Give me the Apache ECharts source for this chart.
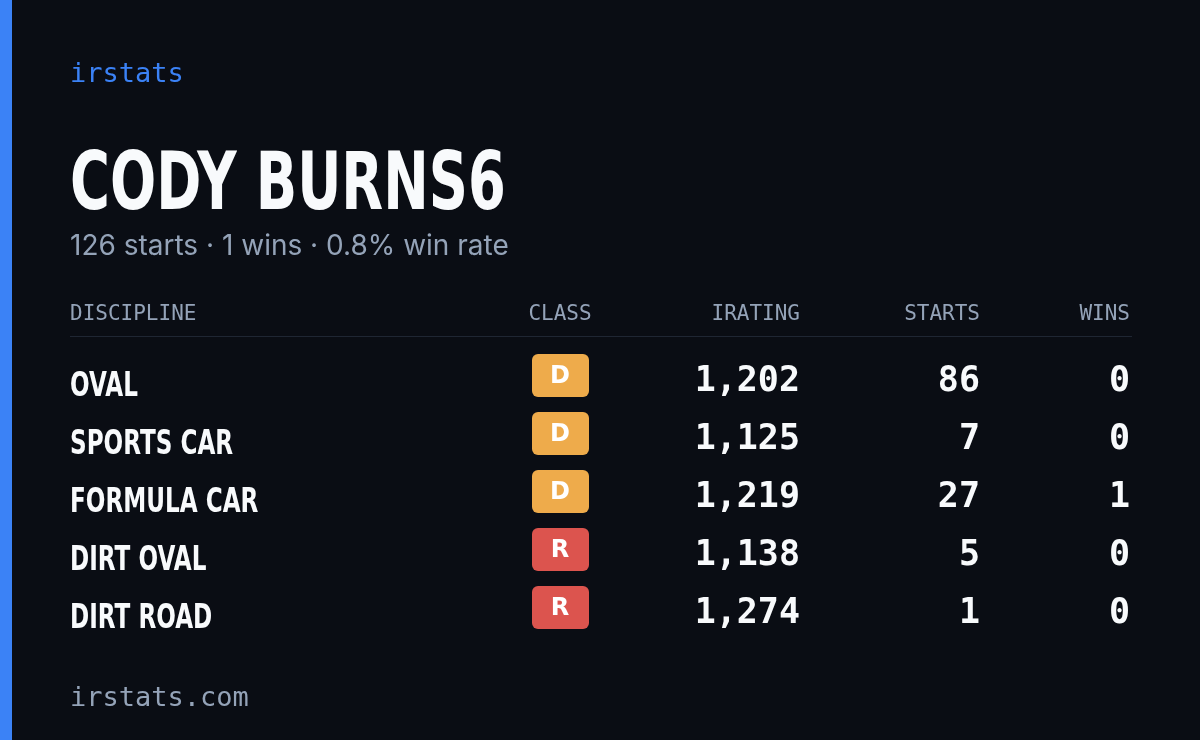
<!DOCTYPE html>
<html><head><meta charset="utf-8">
<script src="https://cdn.jsdelivr.net/npm/echarts@6/dist/echarts.min.js"></script>
<style>html,body{margin:0;padding:0;background:#0a0d14}#card{width:1200px;height:740px}</style>
</head><body><div id="card"></div>
<script>
// table data
const disciplines = ['OVAL', 'SPORTS CAR', 'FORMULA CAR', 'DIRT OVAL', 'DIRT ROAD'];
const classes = ['D', 'D', 'D', 'R', 'R'];
const iratings = [1202, 1125, 1219, 1138, 1274];
const starts = [86, 7, 27, 5, 1];
const wins = [0, 0, 1, 0, 0];
const headers = ['DISCIPLINE', 'CLASS', 'IRATING', 'STARTS', 'WINS'];

const classColor = { D: '#eeab4b', R: '#dc544e' };
const mono = '"DejaVu Sans Mono", monospace';
const sans = '"DejaVu Sans", sans-serif';

let card = echarts.init(document.getElementById('card'));

let totalStarts = starts.reduce((a, b) => a + b, 0);
let totalWins = wins.reduce((a, b) => a + b, 0);
let winRate = (totalWins / totalStarts * 100).toFixed(1);

let els = [
    {type: 'rect', shape: {x: 0, y: 0, width: 12, height: 740}, style: {fill: '#3b82f6'}},
    {type: 'text', x: 70, y: 75, style: {text: 'irstats', font: '27px ' + mono, fill: '#3b82f6', verticalAlign: 'middle'}},
    // no condensed font installed, so squeeze horizontally
    {type: 'text', x: 70, y: 188, scaleX: 0.68, style: {text: 'CODY BURNS6', font: 'bold 80px ' + sans, fill: '#f8fafc', verticalAlign: 'middle'}},
    {type: 'text', x: 70, y: 247, style: {text: totalStarts + ' starts · ' + totalWins + ' wins · ' + winRate + '% win rate', font: '28px Inter, "Noto Sans", sans-serif', fill: '#94a3b8', verticalAlign: 'middle'}},
    {type: 'rect', shape: {x: 70, y: 336, width: 1062, height: 1}, style: {fill: '#1f2633'}},
    {type: 'text', x: 70, y: 699, style: {text: 'irstats.com', font: '27px ' + mono, fill: '#94a3b8', verticalAlign: 'middle'}}
];

// header columns: x, align
const cols = [[70, 'left'], [560, 'center'], [800, 'right'], [980, 'right'], [1130, 'right']];
headers.forEach((h, i) => {
    els.push({type: 'text', x: cols[i][0], y: 315, style: {text: h, font: '21px ' + mono, fill: '#94a3b8', align: cols[i][1], verticalAlign: 'middle'}});
});

disciplines.forEach((d, i) => {
    let y = 380 + i * 58;
    els.push({type: 'text', x: 70, y: y + 7, scaleX: 0.68, style: {text: d, font: 'bold 34px ' + sans, fill: '#f8fafc', verticalAlign: 'middle'}});
    els.push({type: 'rect', shape: {x: 532, y: y - 26, width: 57, height: 43, r: 6}, style: {fill: classColor[classes[i]]}});
    els.push({type: 'text', x: 560, y: y - 3, style: {text: classes[i], font: 'bold 24px ' + sans, fill: '#ffffff', align: 'center', verticalAlign: 'middle'}});
    els.push({type: 'text', x: 800, y: y + 2, style: {text: iratings[i].toLocaleString('en-US'), font: 'bold 35px ' + mono, fill: '#f8fafc', align: 'right', verticalAlign: 'middle'}});
    els.push({type: 'text', x: 980, y: y + 2, style: {text: String(starts[i]), font: 'bold 35px ' + mono, fill: '#f8fafc', align: 'right', verticalAlign: 'middle'}});
    els.push({type: 'text', x: 1130, y: y + 2, style: {text: String(wins[i]), font: 'bold 35px ' + mono, fill: '#f8fafc', align: 'right', verticalAlign: 'middle'}});
});

card.setOption({backgroundColor: '#0a0d14', graphic: {elements: els}});
</script></body></html>
